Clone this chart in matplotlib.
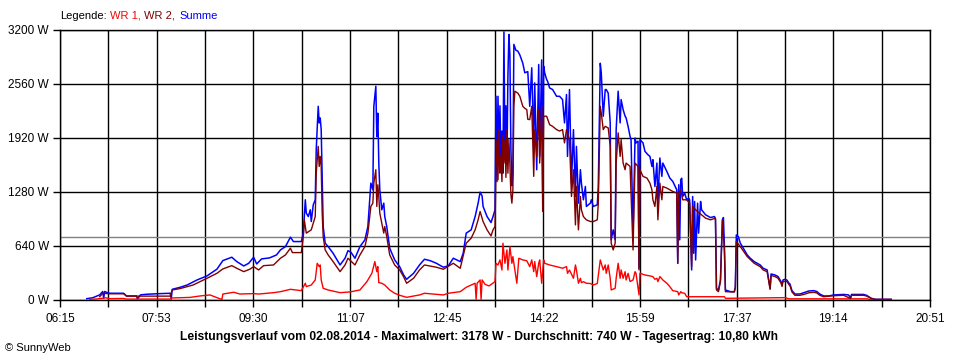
import matplotlib
matplotlib.use("Agg")
import matplotlib.pyplot as plt

plt.rcParams['font.family'] = ['Liberation Sans', 'DejaVu Sans']

# ---- data (time, watts) ----
summe_time = [
    "06:42", "06:48", "06:55", "06:58", "06:59", "07:00", "07:02", "07:05",
    "07:19", "07:22", "07:32", "07:33", "07:36", "07:42", "07:52", "08:06",
    "08:07", "08:08", "08:16", "08:23", "08:33", "08:43", "08:53", "08:59",
    "09:08", "09:13", "09:20", "09:25", "09:30", "09:33", "09:38", "09:46",
    "09:53", "09:57", "10:02", "10:07", "10:10", "10:18", "10:20", "10:22",
    "10:23", "10:25", "10:27", "10:28", "10:30", "10:32", "10:33", "10:35",
    "10:36", "10:37", "10:38", "10:39", "10:40", "10:42", "10:45", "10:50",
    "10:57", "11:02", "11:05", "11:08", "11:12", "11:17", "11:22", "11:25",
    "11:28", "11:30", "11:31", "11:33", "11:34", "11:35", "11:36", "11:37",
    "11:39", "11:41", "11:42", "11:44", "11:47", "11:52", "11:57", "12:01",
    "12:04", "12:11", "12:17", "12:22", "12:28", "12:34", "12:41", "12:46",
    "12:51", "12:58", "13:01", "13:04", "13:09", "13:13", "13:16", "13:18",
    "13:20", "13:21", "13:25", "13:29", "13:31", "13:33", "13:34", "13:35",
    "13:36", "13:37", "13:38", "13:39", "13:40", "13:41", "13:42", "13:43",
    "13:44", "13:45", "13:46", "13:47", "13:48", "13:49", "13:50", "13:51",
    "13:52", "13:54", "13:56", "13:58", "14:01", "14:03", "14:06", "14:08",
    "14:10", "14:12", "14:13", "14:15", "14:17", "14:18", "14:20", "14:21",
    "14:22", "14:23", "14:25", "14:26", "14:28", "14:31", "14:35", "14:38",
    "14:41", "14:43", "14:45", "14:46", "14:48", "14:50", "14:52", "14:54",
    "14:55", "14:57", "14:59", "15:00", "15:02", "15:04", "15:05", "15:09",
    "15:10", "15:12", "15:16", "15:17", "15:19", "15:20", "15:22", "15:24",
    "15:25", "15:27", "15:29", "15:30", "15:32", "15:34", "15:35", "15:37",
    "15:39", "15:40", "15:42", "15:44", "15:45", "15:47", "15:49", "15:50",
    "15:52", "15:54", "15:55", "15:57", "15:58", "15:59", "16:02", "16:04",
    "16:07", "16:09", "16:11", "16:12", "16:14", "16:16", "16:17", "16:19",
    "16:21", "16:22", "16:26", "16:29", "16:32", "16:36", "16:37", "16:38",
    "16:39", "16:40", "16:41", "16:42", "16:44", "16:46", "16:48", "16:49",
    "16:50", "16:51", "16:52", "16:53", "16:54", "16:55", "16:57", "16:58",
    "17:00", "17:01", "17:05", "17:10", "17:14", "17:15", "17:16", "17:18",
    "17:20", "17:22", "17:23", "17:24", "17:25", "17:30", "17:34", "17:35",
    "17:36", "17:38", "17:40", "17:44", "17:47", "17:50", "17:54", "17:57",
    "18:00", "18:03", "18:07", "18:10", "18:11", "18:15", "18:18", "18:21",
    "18:22", "18:23", "18:25", "18:27", "18:29", "18:30", "18:32", "18:35",
    "18:40", "18:44", "18:49", "18:54", "18:57", "19:00", "19:04", "19:09",
    "19:14", "19:24", "19:29", "19:31", "19:32", "19:44", "19:47", "19:52",
    "19:56", "20:12",
]
summe_watt = [
    10, 21, 55, 95, 15, 95, 85, 74,
    74, 42, 42, 5, 55, 62, 68, 74,
    5, 121, 145, 172, 232, 280, 360, 462,
    502, 450, 398, 430, 502, 422, 482, 494,
    529, 589, 628, 740, 688, 688, 788, 1184,
    1026, 985, 1065, 926, 1124, 1184, 1779, 2294,
    2097, 2156, 2017, 1422, 866, 669, 628, 549,
    410, 490, 580, 560, 490, 628, 708, 866,
    1382, 1303, 2294, 2532, 1933, 2212, 1620, 1303,
    1065, 1144, 985, 866, 609, 470, 390, 291,
    240, 311, 410, 478, 460, 430, 383, 400,
    490, 450, 550, 788, 827, 985, 1144, 1275,
    1230, 1105, 985, 914, 985, 1065, 2413, 1400,
    2413, 1700, 2300, 1600, 2000, 1500, 3178, 1700,
    2300, 1600, 2651, 3147, 2900, 1800, 1350, 1501,
    3029, 2960, 2949, 2904, 2805, 2692, 2706, 2294,
    2751, 1818, 2572, 1541, 2790, 1699, 2845, 1263,
    2770, 2692, 2612, 2590, 2512, 2493, 2413, 2413,
    2374, 2097, 2434, 1699, 2493, 1382, 2017, 1223,
    1818, 1144, 1541, 1382, 1184, 1342, 1105, 1144,
    1184, 1105, 1124, 1342, 2805, 2692, 2176, 2493,
    2493, 2450, 2097, 708, 827, 708, 2017, 2473,
    2097, 2374, 2255, 2176, 2156, 2056, 1937, 1898,
    788, 1918, 1859, 1880, 371, 1897, 1860, 1759,
    1719, 1699, 1580, 1660, 1342, 1620, 1144, 1680,
    1462, 1620, 1521, 1442, 1402, 1303, 430, 1362,
    708, 1422, 1440, 1223, 1263, 1184, 1203, 1184,
    788, 351, 1223, 549, 1164, 470, 1144, 788,
    1164, 1065, 1006, 973, 985, 950, 133, 113,
    232, 946, 973, 628, 113, 93, 93, 153,
    767, 747, 669, 589, 529, 490, 450, 430,
    410, 371, 351, 133, 303, 291, 272, 212,
    172, 232, 240, 230, 193, 184, 105, 65,
    65, 81, 101, 105, 95, 65, 42, 42,
    54, 60, 54, 20, 60, 60, 50, 14,
    2, 2,
]

wr2_time = [
    "06:55", "06:58", "07:05", "07:19", "07:22", "07:42", "08:06", "08:08",
    "08:16", "08:29", "08:43", "08:53", "08:59", "09:08", "09:13", "09:20",
    "09:26", "09:30", "09:35", "09:40", "09:50", "09:57", "10:02", "10:07",
    "10:09", "10:18", "10:20", "10:21", "10:23", "10:28", "10:30", "10:32",
    "10:33", "10:35", "10:36", "10:37", "10:38", "10:39", "10:40", "10:42",
    "10:45", "10:50", "10:57", "11:02", "11:05", "11:12", "11:17", "11:22",
    "11:25", "11:28", "11:30", "11:31", "11:33", "11:34", "11:35", "11:36",
    "11:37", "11:39", "11:41", "11:42", "11:44", "11:47", "11:52", "11:57",
    "12:01", "12:04", "12:11", "12:17", "12:22", "12:34", "12:41", "12:51",
    "12:58", "13:04", "13:09", "13:13", "13:16", "13:18", "13:21", "13:25",
    "13:29", "13:31", "13:33", "13:34", "13:35", "13:36", "13:37", "13:38",
    "13:39", "13:40", "13:41", "13:42", "13:43", "13:44", "13:45", "13:46",
    "13:47", "13:48", "13:49", "13:50", "13:51", "13:52", "13:53", "13:56",
    "13:58", "14:01", "14:03", "14:05", "14:06", "14:08", "14:10", "14:12",
    "14:13", "14:15", "14:17", "14:18", "14:20", "14:21", "14:22", "14:25",
    "14:28", "14:31", "14:35", "14:38", "14:41", "14:43", "14:45", "14:48",
    "14:50", "14:52", "14:54", "14:55", "14:57", "14:59", "15:00", "15:02",
    "15:05", "15:09", "15:12", "15:16", "15:17", "15:19", "15:20", "15:22",
    "15:24", "15:27", "15:29", "15:30", "15:32", "15:34", "15:35", "15:37",
    "15:39", "15:40", "15:42", "15:44", "15:45", "15:49", "15:52", "15:54",
    "15:57", "15:58", "15:59", "16:02", "16:06", "16:09", "16:11", "16:12",
    "16:14", "16:16", "16:17", "16:19", "16:21", "16:22", "16:26", "16:29",
    "16:32", "16:36", "16:37", "16:38", "16:40", "16:42", "16:46", "16:49",
    "16:51", "16:52", "16:55", "17:01", "17:05", "17:10", "17:15", "17:16",
    "17:18", "17:20", "17:22", "17:24", "17:25", "17:34", "17:35", "17:36",
    "17:40", "17:47", "17:54", "18:00", "18:03", "18:07", "18:10", "18:11",
    "18:15", "18:18", "18:21", "18:22", "18:23", "18:27", "18:29", "18:30",
    "18:32", "18:35", "18:40", "18:44", "18:49", "18:54", "18:57", "19:00",
    "19:04", "19:14", "19:24", "19:31", "19:32", "19:44", "19:47", "19:52",
    "19:56", "20:12",
]
wr2_watt = [
    33, 74, 68, 68, 40, 40, 40, 113,
    130, 172, 252, 311, 363, 402, 371, 331,
    359, 390, 351, 402, 410, 490, 529, 609,
    557, 557, 747, 946, 788, 827, 906, 985,
    1501, 1818, 1580, 1699, 1580, 1026, 747, 589,
    529, 450, 331, 410, 490, 410, 529, 628,
    788, 1105, 1144, 1382, 1541, 1105, 1362, 1223,
    1026, 906, 788, 866, 747, 529, 410, 351,
    270, 193, 252, 351, 410, 383, 359, 430,
    371, 669, 728, 827, 946, 1045, 926, 827,
    755, 827, 866, 1541, 1900, 1420, 2017, 1500,
    1700, 1400, 1950, 1620, 1900, 1450, 2017, 1500,
    1900, 1600, 1250, 1144, 1300, 2294, 2473, 2450,
    2413, 2294, 2270, 2255, 2140, 2136, 2294, 1462,
    2017, 1699, 2255, 1620, 2294, 1045, 2176, 2176,
    2076, 2056, 2017, 2000, 2017, 1859, 2017, 1898,
    1223, 1541, 886, 1342, 827, 1223, 1065, 985,
    946, 926, 926, 946, 1144, 2294, 2215, 2017,
    2056, 2037, 1818, 669, 589, 669, 1620, 1978,
    1699, 1898, 1620, 1541, 1620, 1580, 589, 1620,
    1580, 351, 1541, 1462, 1442, 1382, 1303, 1184,
    1105, 1342, 946, 1382, 1184, 1342, 1323, 1303,
    1283, 1263, 430, 1263, 1303, 1184, 1184, 1144,
    390, 1105, 1065, 1006, 966, 946, 966, 113,
    93, 212, 946, 580, 93, 90, 140, 688,
    628, 509, 430, 390, 351, 330, 120, 285,
    272, 252, 195, 155, 215, 215, 175, 165,
    90, 50, 50, 60, 80, 85, 78, 50,
    33, 45, 50, 12, 50, 50, 42, 10,
    0, 0,
]

wr1_time = [
    "06:45", "06:55", "07:01", "07:05", "07:19", "07:22", "08:06", "08:08",
    "08:26", "08:36", "08:46", "08:58", "08:59", "09:10", "09:16", "09:30",
    "09:35", "09:50", "09:57", "10:07", "10:18", "10:22", "10:23", "10:28",
    "10:32", "10:34", "10:36", "10:37", "10:38", "10:40", "10:45", "10:57",
    "11:07", "11:17", "11:24", "11:29", "11:32", "11:34", "11:35", "11:36",
    "11:39", "11:42", "11:47", "11:52", "11:57", "12:04", "12:17", "12:22",
    "12:41", "12:46", "12:58", "13:04", "13:13", "13:14", "13:15", "13:18",
    "13:19", "13:20", "13:23", "13:27", "13:33", "13:34", "13:36", "13:38",
    "13:40", "13:41", "13:43", "13:45", "13:46", "13:48", "13:50", "13:51",
    "13:55", "13:57", "14:01", "14:05", "14:08", "14:10", "14:12", "14:13",
    "14:15", "14:17", "14:18", "14:20", "14:22", "14:23", "14:28", "14:35",
    "14:41", "14:45", "14:46", "14:48", "14:52", "14:54", "14:55", "14:57",
    "14:59", "15:00", "15:02", "15:05", "15:09", "15:12", "15:16", "15:19",
    "15:22", "15:24", "15:25", "15:27", "15:29", "15:30", "15:34", "15:35",
    "15:37", "15:39", "15:40", "15:42", "15:44", "15:45", "15:47", "15:49",
    "15:52", "15:54", "15:55", "15:58", "15:59", "16:04", "16:09", "16:12",
    "16:14", "16:16", "16:17", "16:19", "16:22", "16:26", "16:29", "16:32",
    "16:37", "16:38", "16:40", "16:41", "16:44", "16:46", "17:24", "17:25",
    "18:25", "18:29", "19:48", "19:50", "20:12",
]
wr1_watt = [
    0, 10, 20, 10, 12, 5, 5, 18,
    25, 42, 54, 0, 65, 86, 65, 70,
    65, 81, 93, 121, 105, 193, 153, 172,
    232, 430, 390, 410, 232, 133, 113, 81,
    90, 113, 212, 311, 450, 330, 390, 200,
    193, 172, 113, 74, 50, 26, 54, 74,
    54, 74, 93, 145, 193, 0, 193, 232,
    0, 232, 180, 161, 212, 430, 410, 470,
    350, 669, 430, 589, 350, 628, 430, 509,
    193, 490, 470, 460, 390, 470, 331, 450,
    272, 430, 470, 193, 470, 430, 410, 390,
    371, 390, 311, 350, 252, 410, 351, 193,
    252, 200, 212, 193, 190, 172, 190, 470,
    351, 410, 311, 410, 252, 113, 133, 252,
    430, 252, 351, 252, 330, 232, 311, 213,
    232, 330, 311, 54, 311, 291, 280, 272,
    240, 252, 212, 272, 232, 193, 153, 105,
    93, 54, 93, 80, 74, 33, 33, 14,
    22, 8, 8, 0, 0,
]

x_labels = ["06:15", "07:53", "09:30", "11:07", "12:45",
            "14:22", "15:59", "17:37", "19:14", "20:51"]
y_ticks = [0, 640, 1280, 1920, 2560, 3200]
average_w = 740
title = ("Leistungsverlauf vom 02.08.2014 - Maximalwert: 3178 W - "
         "Durchschnitt: 740 W - Tagesertrag: 10,80 kWh")


def to_min(s):
    h, m = s.split(":")
    return int(h) * 60 + int(m)


assert len(summe_time) == len(summe_watt)
assert len(wr2_time) == len(wr2_watt)
assert len(wr1_time) == len(wr1_watt)

fig = plt.figure(figsize=(9.6, 3.6), dpi=100)
ax = fig.add_axes([60 / 960, 1 - 299.5 / 360, 870 / 960, 269.5 / 360])

day_start = to_min(x_labels[0])
day_end = to_min(x_labels[-1])
step = (day_end - day_start) / 18

ax.set_xlim(day_start, day_end)
ax.set_ylim(0, 3200)

ax.set_xticks([day_start + i * step for i in range(19)])
ax.set_xticklabels([x_labels[i // 2] if i % 2 == 0 else "" for i in range(19)])
ax.set_yticks(y_ticks)
ax.set_yticklabels([f"{v} W" for v in y_ticks])

ax.grid(True, color="black", linewidth=1.0)
ax.set_axisbelow(True)
ax.tick_params(direction="out", length=5, width=1.0, color="black",
               labelsize=8.5, pad=3)
ax.tick_params(axis="x", pad=5)
for sp in ax.spines.values():
    sp.set_color("black")
    sp.set_linewidth(1.0)

ax.axhline(average_w, color="#808080", linewidth=1.0, zorder=1.5)

ax.plot([to_min(t) for t in wr1_time], wr1_watt, color="#ff0000",
        linewidth=1.0, zorder=3)
ax.plot([to_min(t) for t in wr2_time], wr2_watt, color="#800000",
        linewidth=1.0, zorder=3)
ax.plot([to_min(t) for t in summe_time], summe_watt, color="#0000ff",
        linewidth=1.1, zorder=2.5)

# legend line on top
ly = 1 - 16 / 360
fig.text(60 / 960, ly, "Legende:", color="black", fontsize=8, va="center")
fig.text(110 / 960, ly, "WR 1,", color="#ff0000", fontsize=8, va="center")
fig.text(144 / 960, ly, "WR 2,", color="#800000", fontsize=8, va="center")
fig.text(179 / 960, ly, "Summe", color="#0000ff", fontsize=8, va="center")

fig.text(479 / 960, 1 - 337 / 360, title, ha="center", va="center",
         fontsize=8.7, fontweight="bold")
fig.text(5 / 960, 1 - 348 / 360, "© SunnyWeb", fontsize=8, va="center")

fig.savefig("out.png", dpi=100)
